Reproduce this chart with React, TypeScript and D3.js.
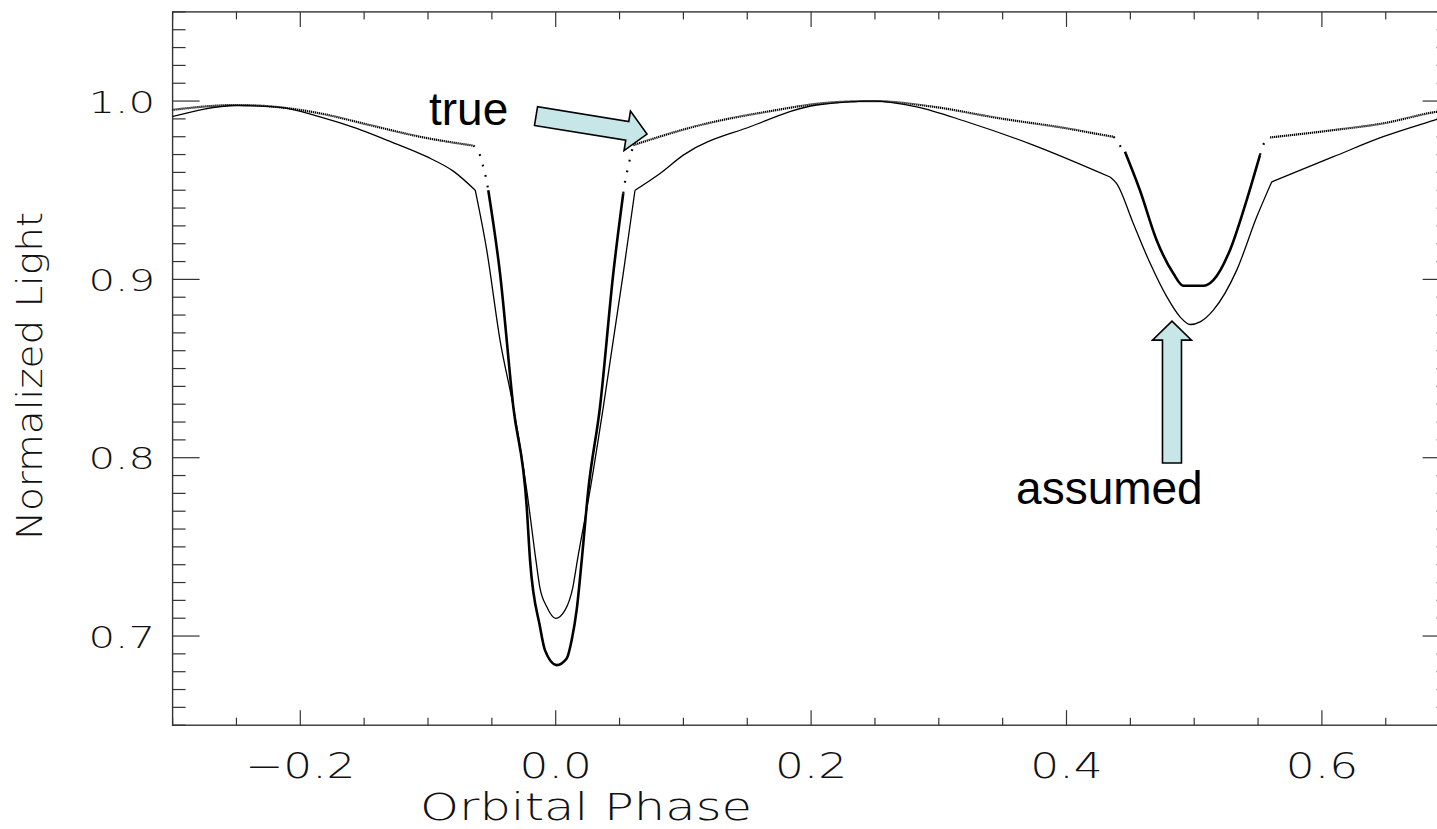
import React from "react";
import * as d3 from "d3";

// ---- data ---------------------------------------------------------------
// Model ("assumed") light curve: [orbital phase, normalized light],
// split at the eclipse contacts where the curve has a corner
const assumedOutside1: [number, number][] = [
  [-0.3007, 0.9912], [-0.2498, 0.9975], [-0.2159, 0.9965], [-0.1846, 0.9912],
  [-0.1558, 0.9847], [-0.1323, 0.9781], [-0.101, 0.9688], [-0.0802, 0.9607],
  [-0.063, 0.95],
];
const assumedPrimary: [number, number][] = [
  [-0.063, 0.95], [-0.054, 0.9164], [-0.0436, 0.866],
  [-0.0332, 0.8285], [-0.0227, 0.7818], [-0.0155, 0.7426], [-0.0125, 0.7276],
  [-0.007, 0.7164], [0.0, 0.7099], [0.0073, 0.7145], [0.0135, 0.7276],
  [0.017, 0.7426], [0.0269, 0.7818], [0.0373, 0.8285], [0.0529, 0.9034],
  [0.0621, 0.95],
];
const assumedOutside2: [number, number][] = [
  [0.0621, 0.95], [0.0817, 0.9594], [0.0999, 0.9697],
  [0.1522, 0.9856], [0.2044, 0.9978], [0.2487, 1.0], [0.2827, 0.9968],
  [0.3218, 0.9884], [0.374, 0.9753], [0.4341, 0.9574],
];
const assumedSecondary: [number, number][] = [
  [0.4341, 0.9574], [0.4393, 0.9537],
  [0.4523, 0.9314], [0.4655, 0.909], [0.4785, 0.8903], [0.4889, 0.879],
  [0.4967, 0.8747], [0.5046, 0.8762], [0.515, 0.8828], [0.5333, 0.9052],
  [0.549, 0.9351], [0.5607, 0.9547],
];
const assumedOutside3: [number, number][] = [
  [0.5607, 0.9547], [0.609, 0.9688], [0.648, 0.98], [0.6899, 0.9897], [0.7, 0.992],
];

// Observed ("true") light curve, split by sampling density
const trueOutside1: [number, number][] = [
  [-0.3009, 0.995], [-0.2498, 0.9978], [-0.2159, 0.9965], [-0.1846, 0.9931],
  [-0.1454, 0.9865], [-0.1063, 0.98], [-0.0645, 0.975],
];
const trueIngress1: [number, number][] = [
  [-0.0645, 0.975], [-0.0589, 0.9688], [-0.0567, 0.963], [-0.0546, 0.957], [-0.0528, 0.95],
];
const truePrimary: [number, number][] = [
  [-0.0528, 0.95], [-0.0436, 0.9034], [-0.0332, 0.8285], [-0.0227, 0.7725],
  [-0.0201, 0.7426], [-0.0123, 0.7052], [-0.0084, 0.6921], [0.0008, 0.6837],
  [0.0086, 0.6874], [0.0125, 0.6977], [0.0164, 0.7145], [0.0204, 0.7426],
  [0.0255, 0.7818], [0.0347, 0.8285], [0.0451, 0.9034], [0.0529, 0.9482],
];
const trueEgress1: [number, number][] = [
  [0.0529, 0.9482], [0.0545, 0.9557], [0.0566, 0.9626], [0.0584, 0.9684], [0.0608, 0.9753],
];
const trueOutside2: [number, number][] = [
  [0.0608, 0.9753], [0.113, 0.9865], [0.1652, 0.994], [0.2174, 0.9993],
  [0.2487, 1.0], [0.2957, 0.9968], [0.3479, 0.9903], [0.4001, 0.9847],
  [0.4262, 0.9813], [0.4367, 0.98],
];
const trueIngress2: [number, number][] = [
  [0.4367, 0.98], [0.4406, 0.977], [0.4427, 0.974], [0.4458, 0.9716],
];
const trueSecondary: [number, number][] = [
  [0.4458, 0.9716], [0.4575, 0.95], [0.4706, 0.922], [0.4836, 0.9034],
  [0.4915, 0.8964], [0.5071, 0.8964], [0.515, 0.8996], [0.528, 0.9164],
  [0.5411, 0.9445], [0.5515, 0.9697],
];
const trueEgress2: [number, number][] = [
  [0.5515, 0.9697], [0.5535, 0.9745], [0.5594, 0.9796],
];
const trueOutside3: [number, number][] = [
  [0.5594, 0.9796], [0.609, 0.9837], [0.648, 0.9875], [0.6899, 0.994], [0.7, 0.995],
];

// Axis ticks and labels
const xMajorTicks = [-0.2, 0.0, 0.2, 0.4, 0.6];
const xTickLabels = ["\u22120.2", "0.0", "0.2", "0.4", "0.6"];
const yMajorTicks = [0.7, 0.8, 0.9, 1.0];
const yTickLabels = ["0.7", "0.8", "0.9", "1.0"];

// Annotations: [phase, light]
const trueArrow = { tail: [-0.0154, 0.9916], tip: [0.0715, 0.9815] };
const trueLabel = { text: "true", at: [-0.0992, 0.9865] };
const assumedArrow = { tail: [0.4826, 0.797], tip: [0.4826, 0.8766] };
const assumedLabel = { text: "assumed", at: [0.3605, 0.774] };

// ---- layout -------------------------------------------------------------
const W = 1437;
const H = 829;
const X0 = 172.6;
const X1 = 1449.6;
const Y0 = 725.2; // 0.65
const Y1 = 11.9; // 1.05

const x = d3.scaleLinear().domain([-0.3, 0.7]).range([X0, X1]);
const y = d3.scaleLinear().domain([0.65, 1.05]).range([Y0, Y1]);

const lineSmooth = d3
  .line<[number, number]>()
  .x((d) => x(d[0]))
  .y((d) => y(d[1]))
  .curve(d3.curveMonotoneX);

const axisFont = "'DejaVu Sans', sans-serif";

function blockArrow(
  tail: number[],
  tip: number[],
  shaftW: number,
  headW: number,
  headL: number
): string {
  const tx = x(tail[0]);
  const ty = y(tail[1]);
  const px = x(tip[0]);
  const py = y(tip[1]);
  const len = Math.hypot(px - tx, py - ty);
  const ux = (px - tx) / len;
  const uy = (py - ty) / len;
  const nx = -uy;
  const ny = ux;
  const bx = px - ux * headL;
  const by = py - uy * headL;
  const pts = [
    [tx + nx * shaftW / 2, ty + ny * shaftW / 2],
    [bx + nx * shaftW / 2, by + ny * shaftW / 2],
    [bx + nx * headW / 2, by + ny * headW / 2],
    [px, py],
    [bx - nx * headW / 2, by - ny * headW / 2],
    [bx - nx * shaftW / 2, by - ny * shaftW / 2],
    [tx - nx * shaftW / 2, ty - ny * shaftW / 2],
  ];
  return "M" + pts.map((p) => p[0].toFixed(2) + "," + p[1].toFixed(2)).join("L") + "Z";
}

export default function App() {
  const yMinor = d3.range(65, 106).map((v) => v / 100);
  const xMinor = d3.range(-6, 15).map((v) => v / 20);
  const isMajorY = (v: number) => Math.abs(v * 10 - Math.round(v * 10)) < 1e-6;
  const isMajorX = (v: number) => Math.abs(v * 5 - Math.round(v * 5)) < 1e-6;
  const axisStroke = "#333";

  return (
    <svg
      width={W}
      height={H}
      style={{ position: "absolute", left: 0, top: 0, background: "#fff" }}
    >
      <defs>
        <clipPath id="plotClip">
          <rect x={X0} y={Y1} width={X1 - X0} height={Y0 - Y1} />
        </clipPath>
      </defs>
      <rect width={W} height={H} fill="#fff" />

      {/* frame */}
      <rect x={X0} y={Y1} width={X1 - X0} height={Y0 - Y1} fill="none" stroke={axisStroke} strokeWidth={1.4} />

      {/* y ticks, left and right */}
      {yMinor.map((v) => {
        const major = isMajorY(v);
        const len = major ? 27 : 13;
        const yy = y(v);
        return (
          <g key={"yt" + v}>
            <line x1={X0} x2={X0 + len} y1={yy} y2={yy} stroke={axisStroke} strokeWidth={1.2} />
            <line x1={X1} x2={X1 - len} y1={yy} y2={yy} stroke={axisStroke} strokeWidth={1.2} />
          </g>
        );
      })}

      {/* x ticks, bottom and top */}
      {xMinor.map((v) => {
        const major = isMajorX(v);
        const len = major ? 15 : 7.5;
        const xx = x(v);
        return (
          <g key={"xt" + v}>
            <line x1={xx} x2={xx} y1={Y0} y2={Y0 - len} stroke={axisStroke} strokeWidth={1.2} />
            <line x1={xx} x2={xx} y1={Y1} y2={Y1 + len} stroke={axisStroke} strokeWidth={1.2} />
          </g>
        );
      })}

      {/* tick labels */}
      {yMajorTicks.map((v, i) => (
        <text
          key={"yl" + v}
          transform={`translate(155,${y(v) + 11.5}) scale(1.35,1)`}
          textAnchor="end"
          fontFamily={axisFont}
          fontWeight={200}
          fontSize={31}
          fill="#111"
        >
          {yTickLabels[i]}
        </text>
      ))}
      {xMajorTicks.map((v, i) => (
        <text
          key={"xl" + v}
          transform={`translate(${x(v)},778) scale(1.3,1)`}
          textAnchor="middle"
          fontFamily={axisFont}
          fontWeight={200}
          fontSize={35}
          fill="#111"
        >
          {xTickLabels[i]}
        </text>
      ))}

      {/* axis titles */}
      <text
        x={586}
        y={820}
        textAnchor="middle"
        fontFamily={axisFont}
        fontWeight={200}
        fontSize={37}
        textLength={332}
        lengthAdjust="spacingAndGlyphs"
        fill="#111"
      >
        Orbital Phase
      </text>
      <text
        transform="translate(42,376) rotate(-90)"
        textAnchor="middle"
        fontFamily={axisFont}
        fontWeight={200}
        fontSize={36}
        textLength={328}
        lengthAdjust="spacingAndGlyphs"
        fill="#111"
      >
        Normalized Light
      </text>

      {/* curves */}
      <g clipPath="url(#plotClip)" fill="none">
        {[assumedOutside1, assumedPrimary, assumedOutside2, assumedSecondary, assumedOutside3].map((seg, i) => (
          <path key={"am" + i} d={lineSmooth(seg) || ""} stroke="#000" strokeWidth={1.3} />
        ))}
        {[trueOutside1, trueOutside2, trueOutside3].map((seg, i) => (
          <path key={"to" + i} d={lineSmooth(seg) || ""} stroke="#000" strokeWidth={2.2} strokeDasharray="1.3 0.7" />
        ))}
        {[trueIngress1, trueEgress1, trueIngress2, trueEgress2].map((seg, i) => (
          <path key={"te" + i} d={lineSmooth(seg) || ""} stroke="#000" strokeWidth={2.2} strokeDasharray="1.8 9" />
        ))}
        {[truePrimary, trueSecondary].map((seg, i) => (
          <path key={"tp" + i} d={lineSmooth(seg) || ""} stroke="#000" strokeWidth={2.6} />
        ))}
      </g>

      {/* annotations */}
      <path d={blockArrow(trueArrow.tail, trueArrow.tip, 19, 40, 20)} fill="#c6e6e8" stroke="#000" strokeWidth={1.6} strokeLinejoin="miter" />
      <text x={x(trueLabel.at[0])} y={y(trueLabel.at[1])} fontFamily="'Liberation Sans', Arial, sans-serif" fontSize={46} fill="#000">
        {trueLabel.text}
      </text>
      <path d={blockArrow(assumedArrow.tail, assumedArrow.tip, 19, 39, 19)} fill="#c6e6e8" stroke="#000" strokeWidth={1.6} strokeLinejoin="miter" />
      <text x={x(assumedLabel.at[0])} y={y(assumedLabel.at[1])} fontFamily="'Liberation Sans', Arial, sans-serif" fontSize={46} fill="#000">
        {assumedLabel.text}
      </text>
    </svg>
  );
}
